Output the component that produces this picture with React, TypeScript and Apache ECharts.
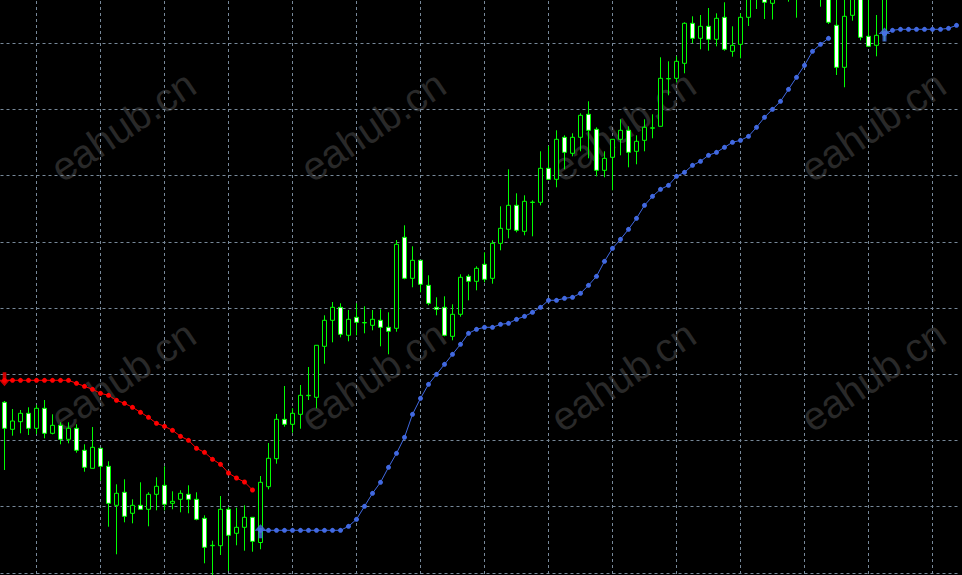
import React, { useEffect, useRef } from "react";
import * as echarts from "echarts";

// Price points (scale: one grid step = 66.2 points), one entry per bar; null = bar lies fully above the view
const opens: (number | null)[] = [
  236.7, 209.7, 217.3, 225.7, 210.7, 230.7, 205.7, 213.7, 199.7, 210.7,
  188.7, 170.7, 190.7, 172.7, 133.7, 146.7, 125.7, 133.7, 129.7, 144.7,
  153.7, 135.7, 139.7, 144.7, 139.7, 120.7, 93.3, 93.3, 129.7, 105.7,
  111.7, 121.7, 96.5, 152.3, 180.3, 219.7, 214.7, 224.7, 243.3, 241.7,
  292.7, 318.7, 331.7, 303.7, 321.7, 316.1, 313.7, 318.7, 311.7, 310.7,
  401.7, 360.7, 378.7, 353.7, 331.7, 331.7, 302.7, 324.7, 362.7, 357.7,
  374.7, 360.7, 395.7, 409.7, 433.7, 407.7, 436.5, 436.7, 470.7, 459.7,
  501.7, 485.7, 501.7, 524.7, 509.7, 468.7, 481.7, 499.7, 508.7, 487.7,
  498.7, 510.8, 512.7, 560.1, 560.7, 575.7, 615.7, 600.7, 612.7, 599.7,
  621.7, 587.7, 594.7, 621.7, 659, 651, 635.7, null, 646, 650,
  null, null, 664, 645, 613.7, 571.7, 623.7, 644, 602.7, 593.7,
  604, null, null, null, null, null, null, null, null, null,
];
const closes: (number | null)[] = [
  210.7, 218, 225.7, 210.7, 230.7, 205.7, 213.7, 199.7, 210.7, 188.7,
  171.7, 191.7, 172.7, 135.7, 145.7, 122.7, 133.7, 129.7, 144.7, 152.7,
  134.7, 137.7, 145.7, 139.7, 119.7, 91.7, 93.7, 129.7, 103.7, 111.7,
  121.7, 97.7, 156.7, 180.7, 219.7, 214.7, 225.7, 243.7, 243.7, 293.7,
  318.7, 331.7, 304.7, 319.7, 316.7, 316.5, 319.7, 311.7, 307.7, 394.7,
  360.7, 378.7, 354.7, 335.7, 329.7, 303.7, 324.7, 361.7, 357.7, 370.7,
  359.7, 395.7, 410.7, 433.7, 408.7, 437.7, 436.9, 470.7, 459.7, 499.7,
  486.7, 501.7, 523.7, 508.7, 468.7, 480.7, 499.7, 508.7, 486.7, 497.7,
  511.7, 511.2, 560.7, 560.5, 577.7, 615.7, 600.7, 612.7, 599.7, 620.7,
  589.7, 593.7, 621.7, 647, 643, 636.7, 654, null, 658, 664,
  null, null, 645, 616.7, 571.7, 622.7, 649, 601.7, 592.7, 603.7,
  649, null, null, null, null, null, null, null, null, null,
];
const lows: (number | null)[] = [
  169, 203.3, 205.7, 204, 205, 200.7, 204.7, 194.7, 195.7, 186.3,
  167.3, 170.7, 158.3, 112.3, 84.7, 116.7, 115.7, 129.7, 112.7, 128.7,
  128.7, 129.7, 126.7, 125.7, 118.7, 75.7, 59, 84, 68, 93.7,
  88.3, 87.3, 89.7, 149.7, 175.3, 212.3, 206.3, 210.3, 239, 230.7,
  275.3, 296.7, 301.7, 297.7, 303.7, 305.7, 308.7, 292.7, 284.7, 307.3,
  359.7, 351.7, 346.7, 333.7, 323.7, 302.7, 298.7, 322.3, 338.7, 348.7,
  356.7, 355.3, 388.7, 400.7, 406.7, 403.7, 402.7, 433.7, 459.7, 451.7,
  469.7, 482.7, 487.7, 480.7, 462.7, 461.7, 448.7, 483.7, 471.7, 474.7,
  487.7, 500.7, 512.7, 543.7, 556.7, 565.7, 595.7, 589.7, 588.3, 592.7,
  588.3, 582.3, 580.7, 613, 630, 620, 619.5, null, 637.3, 621.3,
  null, null, 632.3, 615, 564, 551.7, 618.3, 598.7, 592.7, 582.7,
  598, null, null, null, null, null, null, null, null, null,
];
const highs: (number | null)[] = [
  238, 230, 229, 231.7, 234, 239, 224.7, 216.7, 216.7, 214.7,
  194.7, 212, 190.7, 177.7, 154.7, 159.7, 139.7, 156.7, 146.7, 161.7,
  172.7, 147.7, 148.7, 153.7, 146.7, 123.7, 98.3, 143, 132, 131.3,
  133.7, 121.7, 163, 196, 225, 253, 230.7, 254, 272, 293.7,
  323.7, 337, 335.7, 329, 335.7, 332.7, 329, 329.7, 326.7, 399,
  413.7, 392.7, 378.7, 363.7, 341.7, 342.7, 334.7, 364.7, 364.7, 372.7,
  386.7, 398.7, 432.7, 469.7, 445.7, 443.7, 438.7, 487.7, 493, 508.7,
  503.7, 505.7, 525.7, 537.7, 511.7, 487.7, 499.7, 519.7, 512.7, 503.7,
  519.7, 524.7, 581.7, 577.7, 582.7, 616.7, 622.7, 624, 631, 625.7,
  636.7, 612.7, 625.7, 654, 665, 657, 661, null, 666, 670,
  null, null, 670, 650, 645, 642, 655, 652, 645, 624,
  655, null, null, null, null, null, null, null, null, null,
];

// Trailing stop, downtrend (red) and uptrend (blue)
const stopDown: (number | null)[] = [
  258.7, 258.7, 258.7, 258.7, 258.7, 258.7, 258.7, 258.7, 258.7, 255.7,
  252.7, 249.7, 245.7, 243.7, 238.7, 235.7, 231.7, 226.7, 221.7, 215.7,
  212.7, 208.7, 202.7, 198.7, 190.7, 186.7, 179.7, 174.7, 166, 161,
  157, 149,
];
const stopUp: (number | null)[] = [
  null, null, null, null, null, null, null, null, null, null,
  null, null, null, null, null, null, null, null, null, null,
  null, null, null, null, null, null, null, null, null, null,
  null, null, 108.7, 108.7, 108.7, 108.7, 108.7, 108.7, 108.7, 108.7,
  108.7, 108.7, 108.7, 112.7, 119.7, 132.7, 145.7, 156.7, 171.7, 185.7,
  201.7, 224.7, 240.7, 254.7, 264.7, 274.7, 284.7, 294.7, 305.7, 309.7,
  311.7, 311.7, 314.7, 315.7, 319.7, 322.7, 326.7, 331.7, 338.7, 338.7,
  340.7, 341.7, 345.7, 353.7, 362.7, 377.7, 390.7, 399.7, 409.7, 420.7,
  433.7, 442.7, 449.7, 453.7, 462.7, 466.7, 473.7, 477.7, 483.7, 486.7,
  491.7, 496.7, 498.7, 502.7, 511.7, 521.7, 529.7, 537.7, 549.7, 561.7,
  573.7, 587.7, 594.7, 600.7, null, null, null, null, null, null,
  605.5, 608.7, 609.7, 609.7, 609.7, 609.7, 609.7, 609.7, 610.7, 613.7,
];

const watermarkText = "eahub.cn";

const UP_ARROW = "path://M6,0 L12,6.5 L8,6.5 L8,14 L4,14 L4,6.5 L0,6.5 Z";
const DOWN_ARROW = "path://M4,0 L8,0 L8,7.5 L12,7.5 L6,14 L0,7.5 L4,7.5 Z";

export default function App() {
  const ref = useRef<HTMLDivElement>(null);
  useEffect(() => {
    document.body.style.margin = "0";
    document.body.style.background = "#000";
    const chart = echarts.init(ref.current!, null, { renderer: "svg" });
    const n = opens.length;
    const cats = opens.map((_, i) => `bar ${i + 1}`);
    const candles = opens.map((o, i) =>
      o == null ? ["-", "-", "-", "-"] : [o, closes[i], lows[i], highs[i]]
    );
    const downFull = cats.map((_, i) => (i < stopDown.length ? stopDown[i] : null));
    const starts = (arr: (number | null)[]) =>
      arr
        .map((v, i) => (v != null && (i === 0 || arr[i - 1] == null) ? [i, v] : null))
        .filter((d) => d != null);
    const gridLine = { show: true, lineStyle: { color: "#778899", type: [3, 3], width: 1 } };
    const marks: any[] = [];
    for (let r = 0; r < 2; r++) {
      for (let c = 0; c < 4; c++) {
        marks.push({
          type: "text",
          x: 123 + c * 250,
          y: 126 + r * 250,
          rotation: (34 * Math.PI) / 180,
          z: -1,
          silent: true,
          style: {
            text: watermarkText,
            fill: "#292929",
            font: "40px 'Liberation Sans', Arial, sans-serif",
            align: "center",
            verticalAlign: "middle",
          },
        });
      }
    }
    chart.setOption({
      animation: false,
      backgroundColor: "#000000",
      graphic: marks,
      grid: [
        { left: 0.5, top: -23, width: 8 * n, height: 662, outerBoundsMode: "none", containLabel: false },
        { left: -27.7, top: -23, width: 1024, height: 662, outerBoundsMode: "none", containLabel: false },
      ],
      xAxis: [
        {
          type: "category",
          data: cats,
          boundaryGap: true,
          axisLine: { show: false },
          axisTick: { show: false },
          axisLabel: { show: false },
          splitLine: { show: false },
        },
        {
          type: "value",
          gridIndex: 1,
          min: 0,
          max: 16,
          interval: 1,
          axisLine: { show: false },
          axisTick: { show: false },
          axisLabel: { show: false },
          splitLine: gridLine,
        },
      ],
      yAxis: [
        {
          type: "value",
          min: 0,
          max: 662,
          interval: 66.2,
          axisLine: { show: false },
          axisTick: { show: false },
          axisLabel: { show: false },
          splitLine: gridLine,
        },
        {
          type: "value",
          gridIndex: 1,
          min: 0,
          max: 1,
          show: false,
          splitLine: { show: false },
        },
      ],
      series: [
        { type: "scatter", xAxisIndex: 1, yAxisIndex: 1, data: [], silent: true },
        {
          type: "candlestick",
          data: candles,
          barWidth: 4,
          itemStyle: {
            color: "#000000",
            color0: "#ffffff",
            borderColor: "#00ff00",
            borderColor0: "#00ff00",
            borderWidth: 1,
          },
          z: 2,
        },
        {
          type: "line",
          data: downFull,
          symbol: "circle",
          symbolSize: 5,
          showSymbol: true,
          connectNulls: false,
          lineStyle: { color: "#ff0000", width: 1 },
          itemStyle: { color: "#ff0000" },
          z: 4,
        },
        {
          type: "line",
          data: stopUp,
          symbol: "circle",
          symbolSize: 5,
          showSymbol: true,
          connectNulls: false,
          lineStyle: { color: "#4169e1", width: 1 },
          itemStyle: { color: "#4169e1" },
          z: 4,
        },
        {
          type: "scatter",
          data: starts(downFull),
          symbol: DOWN_ARROW,
          symbolSize: [11, 14],
          symbolOffset: [0, -1],
          itemStyle: { color: "#ff0000" },
          z: 5,
        },
        {
          type: "scatter",
          data: starts(stopUp),
          symbol: UP_ARROW,
          symbolSize: [12, 14],
          symbolOffset: [0, 1],
          itemStyle: { color: "#4a72e6" },
          z: 5,
        },
      ],
    });
    return () => chart.dispose();
  }, []);
  return (
    <div
      ref={ref}
      style={{ position: "fixed", left: 0, top: 0, width: 962, height: 575, background: "#000" }}
    />
  );
}
